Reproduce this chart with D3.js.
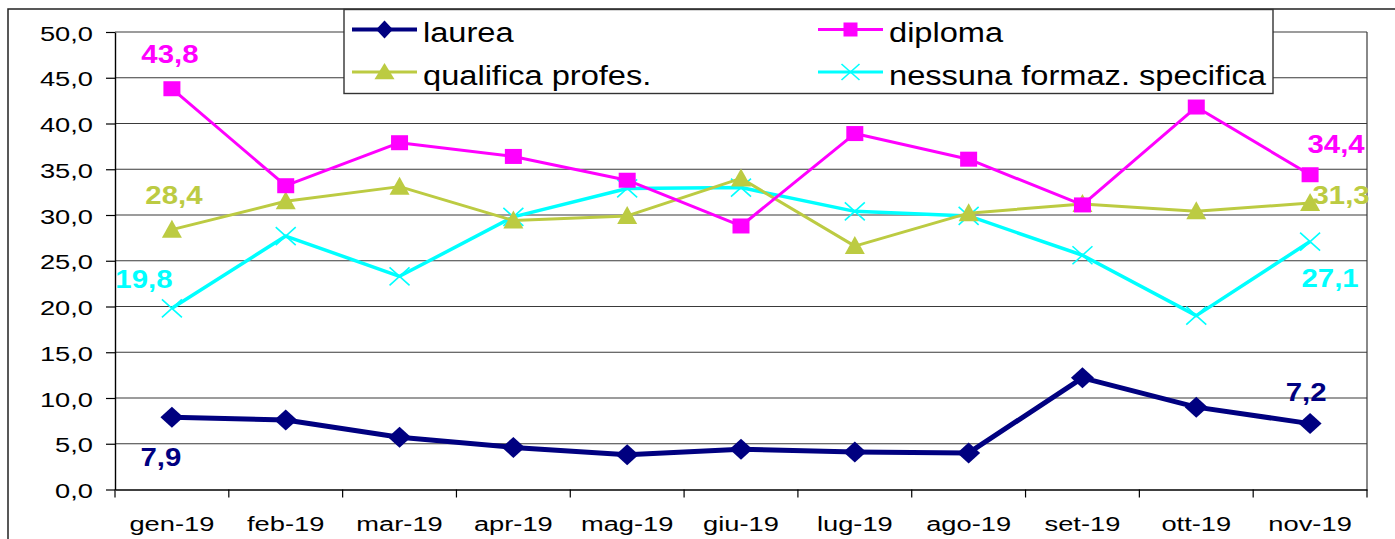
<!DOCTYPE html>
<html>
<head>
<meta charset="utf-8">
<script src="https://cdn.jsdelivr.net/npm/d3@7"></script>
<style>
  body { margin: 0; background: #fff; }
  text { font-family: "Liberation Sans", Arial, sans-serif; }
</style>
</head>
<body>
<div id="chart"></div>
<script>
// chart data
const months = ["gen-19", "feb-19", "mar-19", "apr-19", "mag-19", "giu-19",
                "lug-19", "ago-19", "set-19", "ott-19", "nov-19"];
const laurea = [7.9, 7.6, 5.7, 4.6, 3.8, 4.4, 4.1, 4.0, 12.2, 9.0, 7.2];
const diploma = [43.8, 33.2, 37.9, 36.4, 33.8, 28.8, 38.9, 36.1, 31.1, 41.8, 34.4];
const qualifica = [28.4, 31.5, 33.1, 29.4, 29.9, 34.0, 26.6, 30.2, 31.2, 30.4, 31.3];
const nessuna = [19.8, 27.7, 23.3, 29.8, 32.9, 33.0, 30.4, 29.9, 25.6, 19.0, 27.1];
const yTicks = [0, 5, 10, 15, 20, 25, 30, 35, 40, 45, 50];

const seriesNames = ["laurea", "diploma", "qualifica profes.", "nessuna formaz. specifica"];
const seriesValues = [laurea, diploma, qualifica, nessuna];

function init() {
    const W = 1395, H = 539;
    const plot = { left: 115, right: 1367, top: 32, bottom: 489.5 };

    // look of each series (colour, line width, marker, label offsets)
    const styles = [
        { color: "#000080", width: 5, marker: "diamond", first: [-11, 49], last: [-4, -23] },
        { color: "#ff00ff", width: 3, marker: "square", first: [-2, -26], last: [26, -22] },
        { color: "#bccb42", width: 3, marker: "triangle", first: [2, -26], last: [31, 1] },
        { color: "#00ffff", width: 3.5, marker: "cross", first: [-28, -20], last: [20, 45] }
    ];

    const svg = d3.select("#chart").append("svg")
        .attr("width", W)
        .attr("height", H);

    // outer chart frame
    svg.append("rect")
        .attr("x", 8).attr("y", 9)
        .attr("width", W).attr("height", H)
        .attr("fill", "none")
        .attr("stroke", "#222")
        .attr("stroke-width", 1.5);

    const x = d3.scaleBand().domain(months).range([plot.left, plot.right]);
    const y = d3.scaleLinear().domain([0, 50]).range([plot.bottom, plot.top]);
    const cx = m => x(m) + x.bandwidth() / 2;
    const fmt = v => d3.format(".1f")(v).replace(".", ",");

    // gridlines
    svg.append("g")
        .selectAll("line")
        .data(yTicks.filter(d => d > 0))
        .join("line")
        .attr("x1", plot.left).attr("x2", plot.right)
        .attr("y1", d => y(d)).attr("y2", d => y(d))
        .attr("stroke", "#3a3a3a")
        .attr("stroke-width", 1.2);

    // right border of plot area
    svg.append("line")
        .attr("x1", plot.right).attr("x2", plot.right)
        .attr("y1", plot.top).attr("y2", plot.bottom)
        .attr("stroke", "#3a3a3a").attr("stroke-width", 1.2);

    // y axis
    const yAxis = svg.append("g")
        .attr("transform", "translate(" + plot.left + ",0)")
        .call(d3.axisLeft(y).tickValues(yTicks).tickFormat(fmt).tickSize(9).tickSizeOuter(0));
    yAxis.select(".domain").attr("stroke", "#000").attr("stroke-width", 1.4);
    yAxis.selectAll(".tick line").attr("stroke", "#000").attr("stroke-width", 1.2);
    yAxis.selectAll(".tick text")
        .attr("x", 0).attr("dy", 0)
        .attr("transform", "translate(-22,8) scale(1.3,1)")
        .attr("font-size", 21)
        .attr("fill", "#000");

    // x axis: labels at centres, ticks between categories
    const xAxis = svg.append("g")
        .attr("transform", "translate(0," + plot.bottom + ")")
        .call(d3.axisBottom(x).tickSize(0).tickSizeOuter(0));
    xAxis.select(".domain").attr("stroke", "#000").attr("stroke-width", 1.4);
    xAxis.selectAll(".tick text")
        .attr("y", 0).attr("dy", 0)
        .attr("transform", "translate(0,41.5) scale(1.3,1)")
        .attr("font-size", 21)
        .attr("fill", "#000");
    xAxis.selectAll(".boundary")
        .data(months.map(m => x(m)).concat([plot.right]))
        .join("line")
        .attr("class", "boundary")
        .attr("x1", d => d).attr("x2", d => d)
        .attr("y1", 0).attr("y2", 8)
        .attr("stroke", "#000").attr("stroke-width", 1.2);

    // marker shapes
    function drawMarker(g, kind, color, sx, sy) {
        if (kind === "diamond") {
            g.append("path")
                .attr("d", "M0," + (-sy) + "L" + sx + ",0L0," + sy + "L" + (-sx) + ",0Z")
                .attr("fill", color);
        } else if (kind === "square") {
            g.append("rect")
                .attr("x", -sx).attr("y", -sy)
                .attr("width", 2 * sx).attr("height", 2 * sy)
                .attr("fill", color);
        } else if (kind === "triangle") {
            g.append("path")
                .attr("d", "M0," + (-sy) + "L" + sx + "," + (sy * 0.8) + "L" + (-sx) + "," + (sy * 0.8) + "Z")
                .attr("fill", color);
        } else {
            g.append("path")
                .attr("d", "M" + (-sx) + "," + (-sy) + "L" + sx + "," + sy + "M" + sx + "," + (-sy) + "L" + (-sx) + "," + sy)
                .attr("stroke", color)
                .attr("stroke-width", 1.6)
                .attr("fill", "none");
        }
    }
    const markerSize = {
        diamond: [11.5, 10.5], square: [8.5, 7.5], triangle: [10, 10], cross: [10, 9]
    };

    // lines and markers, last series drawn first so laurea sits on top
    const order = [3, 2, 1, 0];
    order.forEach(function (i) {
        const vals = seriesValues[i], st = styles[i];
        const line = d3.line()
            .x((d, j) => cx(months[j]))
            .y(d => y(d));
        svg.append("path")
            .datum(vals)
            .attr("d", line)
            .attr("fill", "none")
            .attr("stroke", st.color)
            .attr("stroke-width", st.width)
            .attr("stroke-linejoin", "round");
        svg.append("g")
            .selectAll("g")
            .data(vals)
            .join("g")
            .attr("transform", (d, j) => "translate(" + cx(months[j]) + "," + y(d) + ")")
            .each(function () {
                const s = markerSize[st.marker];
                drawMarker(d3.select(this), st.marker, st.color, s[0], s[1]);
            });
    });

    // data labels on first and last point
    seriesValues.forEach(function (vals, i) {
        const st = styles[i];
        [[0, st.first], [vals.length - 1, st.last]].forEach(function (p) {
            const j = p[0], off = p[1];
            svg.append("text")
                .attr("transform", "translate(" + (cx(months[j]) + off[0]) + "," + (y(vals[j]) + off[1]) + ") scale(1.13,1)")
                .attr("text-anchor", "middle")
                .attr("font-size", 26)
                .attr("font-weight", "bold")
                .attr("fill", st.color)
                .text(fmt(vals[j]));
        });
    });

    // legend
    const legend = svg.append("g");
    legend.append("rect")
        .attr("x", 344).attr("y", 9.5)
        .attr("width", 929).attr("height", 84)
        .attr("fill", "#fff")
        .attr("stroke", "#333")
        .attr("stroke-width", 1.4);
    const legendPos = [[352, 29.5], [818, 29.5], [352, 72], [818, 72]];
    const legendMarker = {
        diamond: [8.5, 9], square: [7, 7], triangle: [10, 9], cross: [9, 8]
    };
    seriesNames.forEach(function (name, i) {
        const st = styles[i], p = legendPos[i];
        const g = legend.append("g").attr("transform", "translate(" + p[0] + "," + p[1] + ")");
        g.append("line")
            .attr("x1", 0).attr("x2", 65)
            .attr("y1", 0).attr("y2", 0)
            .attr("stroke", st.color)
            .attr("stroke-width", i === 0 ? 4 : 3);
        const m = g.append("g").attr("transform", "translate(32.5,0)");
        const s = legendMarker[st.marker];
        drawMarker(m, st.marker, st.color, s[0], s[1]);
        g.append("text")
            .attr("transform", "translate(71,12.5) scale(1.165,1)")
            .attr("font-size", 28)
            .attr("fill", "#000")
            .text(name);
    });
}

window.addEventListener("load", init);
</script>
</body>
</html>
